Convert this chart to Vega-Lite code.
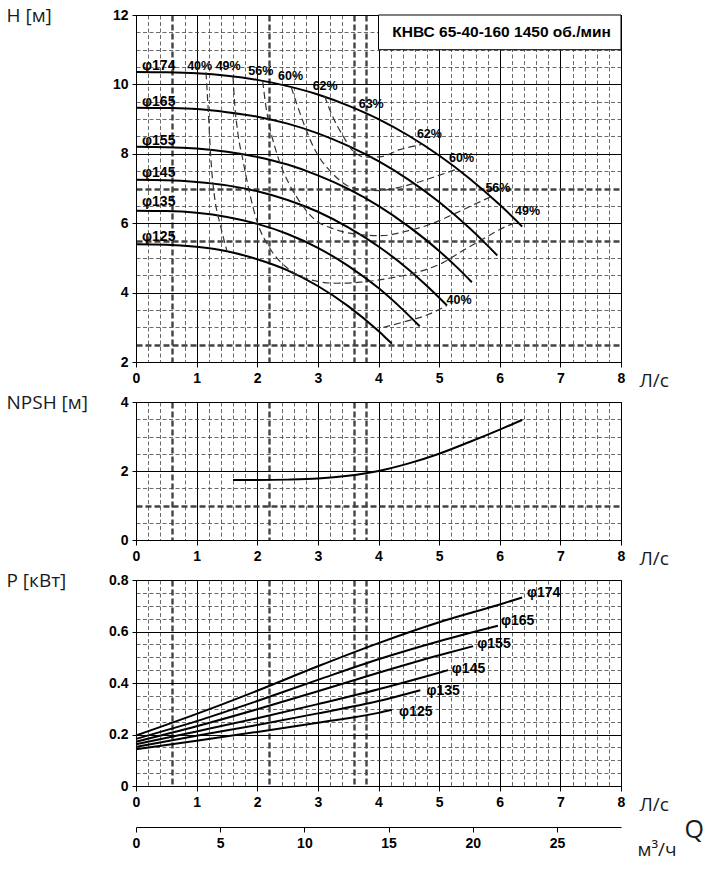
{
  "$schema": "https://vega.github.io/schema/vega-lite/v6.json",
  "background": "white",
  "padding": 5,
  "bounds": "flush",
  "spacing": 40,
  "config": {
    "view": {"stroke": "black", "strokeWidth": 1},
    "axis": {
      "labelFont": "Liberation Sans, Arial, sans-serif",
      "labelFontSize": 14, "labelFontWeight": "bold", "labelColor": "black",
      "titleFont": "Open Sans, Noto Sans, sans-serif", "titleFontWeight": "normal", "titleColor": "#1a1a1a", "titleFontSize": 19,
      "domainColor": "black", "tickColor": "black", "labelFlush": false, "labelOverlap": false, "labelBound": false
    },
    "text": {"font": "Liberation Sans, Arial, sans-serif", "fontWeight": "bold", "color": "black"}
  },
  "datasets": {
    "hq": [
      {"d":"φ174","q":0,"h":10.36},{"d":"φ174","q":0.5,"h":10.35},{"d":"φ174","q":1,"h":10.32},{"d":"φ174","q":1.5,"h":10.25},{"d":"φ174","q":2,"h":10.13},{"d":"φ174","q":2.5,"h":9.95},{"d":"φ174","q":3,"h":9.71},{"d":"φ174","q":3.5,"h":9.39},{"d":"φ174","q":4,"h":9.0},{"d":"φ174","q":4.5,"h":8.52},{"d":"φ174","q":5,"h":7.95},{"d":"φ174","q":5.5,"h":7.29},{"d":"φ174","q":6,"h":6.53},{"d":"φ174","q":6.2,"h":6.2},{"d":"φ174","q":6.37,"h":5.9},
      {"d":"φ165","q":0,"h":9.33},{"d":"φ165","q":0.5,"h":9.32},{"d":"φ165","q":1,"h":9.29},{"d":"φ165","q":1.5,"h":9.2},{"d":"φ165","q":2,"h":9.07},{"d":"φ165","q":2.5,"h":8.87},{"d":"φ165","q":3,"h":8.59},{"d":"φ165","q":3.5,"h":8.23},{"d":"φ165","q":4,"h":7.79},{"d":"φ165","q":4.5,"h":7.25},{"d":"φ165","q":5,"h":6.61},{"d":"φ165","q":5.5,"h":5.86},{"d":"φ165","q":5.75,"h":5.44},{"d":"φ165","q":5.96,"h":5.07},
      {"d":"φ155","q":0,"h":8.2},{"d":"φ155","q":0.5,"h":8.19},{"d":"φ155","q":1,"h":8.15},{"d":"φ155","q":1.5,"h":8.06},{"d":"φ155","q":2,"h":7.91},{"d":"φ155","q":2.5,"h":7.69},{"d":"φ155","q":3,"h":7.38},{"d":"φ155","q":3.5,"h":6.99},{"d":"φ155","q":4,"h":6.5},{"d":"φ155","q":4.5,"h":5.9},{"d":"φ155","q":5,"h":5.2},{"d":"φ155","q":5.3,"h":4.72},{"d":"φ155","q":5.54,"h":4.3},
      {"d":"φ145","q":0,"h":7.25},{"d":"φ145","q":0.5,"h":7.24},{"d":"φ145","q":1,"h":7.19},{"d":"φ145","q":1.5,"h":7.09},{"d":"φ145","q":2,"h":6.92},{"d":"φ145","q":2.5,"h":6.67},{"d":"φ145","q":3,"h":6.33},{"d":"φ145","q":3.5,"h":5.88},{"d":"φ145","q":4,"h":5.33},{"d":"φ145","q":4.5,"h":4.66},{"d":"φ145","q":4.8,"h":4.19},{"d":"φ145","q":5.13,"h":3.63},
      {"d":"φ135","q":0,"h":6.36},{"d":"φ135","q":0.5,"h":6.35},{"d":"φ135","q":1,"h":6.3},{"d":"φ135","q":1.5,"h":6.18},{"d":"φ135","q":2,"h":5.98},{"d":"φ135","q":2.5,"h":5.69},{"d":"φ135","q":3,"h":5.29},{"d":"φ135","q":3.5,"h":4.77},{"d":"φ135","q":4,"h":4.13},{"d":"φ135","q":4.4,"h":3.51},{"d":"φ135","q":4.68,"h":3.03},
      {"d":"φ125","q":0,"h":5.39},{"d":"φ125","q":0.5,"h":5.38},{"d":"φ125","q":1,"h":5.32},{"d":"φ125","q":1.5,"h":5.19},{"d":"φ125","q":2,"h":4.96},{"d":"φ125","q":2.5,"h":4.64},{"d":"φ125","q":3,"h":4.19},{"d":"φ125","q":3.5,"h":3.61},{"d":"φ125","q":4,"h":2.89},{"d":"φ125","q":4.1,"h":2.73},{"d":"φ125","q":4.22,"h":2.53}
    ],
    "eff": [
      {"e":"40L","q":1.155,"h":10.35},{"e":"40L","q":1.19,"h":9.3},{"e":"40L","q":1.22,"h":8.3},{"e":"40L","q":1.25,"h":7.5},{"e":"40L","q":1.3,"h":6.7},{"e":"40L","q":1.39,"h":5.95},{"e":"40L","q":1.5,"h":5.2},
      {"e":"49","q":1.6,"h":10.22},{"e":"49","q":1.63,"h":9.4},{"e":"49","q":1.68,"h":8.6},{"e":"49","q":1.76,"h":7.85},{"e":"49","q":1.87,"h":6.9},{"e":"49","q":2.0,"h":6.03},{"e":"49","q":2.2,"h":5.3},{"e":"49","q":2.5,"h":4.7},{"e":"49","q":2.9,"h":4.36},{"e":"49","q":3.3,"h":4.27},{"e":"49","q":3.7,"h":4.3},{"e":"49","q":4.2,"h":4.42},{"e":"49","q":4.7,"h":4.62},{"e":"49","q":5.05,"h":4.85},{"e":"49","q":5.4,"h":5.22},{"e":"49","q":5.7,"h":5.52},{"e":"49","q":6.0,"h":5.82},{"e":"49","q":6.3,"h":6.05},
      {"e":"56","q":2.09,"h":10.1},{"e":"56","q":2.14,"h":9.4},{"e":"56","q":2.2,"h":8.81},{"e":"56","q":2.29,"h":8.2},{"e":"56","q":2.39,"h":7.66},{"e":"56","q":2.52,"h":7.15},{"e":"56","q":2.67,"h":6.7},{"e":"56","q":2.94,"h":6.12},{"e":"56","q":3.27,"h":5.83},{"e":"56","q":3.6,"h":5.69},{"e":"56","q":4.04,"h":5.64},{"e":"56","q":4.48,"h":5.78},{"e":"56","q":4.87,"h":5.98},{"e":"56","q":5.25,"h":6.27},{"e":"56","q":5.53,"h":6.5},{"e":"56","q":5.85,"h":6.76},
      {"e":"60","q":2.56,"h":9.92},{"e":"60","q":2.66,"h":9.4},{"e":"60","q":2.78,"h":8.81},{"e":"60","q":2.9,"h":8.3},{"e":"60","q":3.03,"h":7.88},{"e":"60","q":3.22,"h":7.47},{"e":"60","q":3.44,"h":7.13},{"e":"60","q":3.7,"h":6.97},{"e":"60","q":4.0,"h":6.94},{"e":"60","q":4.3,"h":7.02},{"e":"60","q":4.65,"h":7.18},{"e":"60","q":4.98,"h":7.37},{"e":"60","q":5.3,"h":7.56},
      {"e":"62","q":3.11,"h":9.67},{"e":"62","q":3.25,"h":9.05},{"e":"62","q":3.42,"h":8.5},{"e":"62","q":3.58,"h":8.08},{"e":"62","q":3.8,"h":7.9},{"e":"62","q":4.05,"h":7.92},{"e":"62","q":4.35,"h":8.12},{"e":"62","q":4.72,"h":8.27},
      {"e":"40R","q":4.08,"h":3.0},{"e":"40R","q":4.45,"h":3.17},{"e":"40R","q":4.81,"h":3.36},{"e":"40R","q":5.13,"h":3.63}
    ],
    "hqlab": [
      {"t":"φ174","q":0.1,"h":10.54},{"t":"φ165","q":0.1,"h":9.5},{"t":"φ155","q":0.1,"h":8.38},
      {"t":"φ145","q":0.1,"h":7.45},{"t":"φ135","q":0.1,"h":6.6},{"t":"φ125","q":0.1,"h":5.59}
    ],
    "efflab": [
      {"t":"40%","q":1.05,"h":10.54},{"t":"49%","q":1.52,"h":10.52},{"t":"56%","q":2.06,"h":10.38},
      {"t":"60%","q":2.55,"h":10.25},{"t":"62%","q":3.12,"h":9.95},{"t":"63%","q":3.88,"h":9.44},
      {"t":"62%","q":4.84,"h":8.57},{"t":"60%","q":5.37,"h":7.87},{"t":"56%","q":5.97,"h":7.01},
      {"t":"49%","q":6.46,"h":6.36},{"t":"40%","q":5.33,"h":3.8}
    ],
    "npsh": [
      {"q":1.6,"n":1.74},{"q":2.0,"n":1.74},{"q":2.5,"n":1.75},{"q":3.0,"n":1.78},{"q":3.5,"n":1.86},{"q":4.0,"n":2.0},
      {"q":4.5,"n":2.22},{"q":5.0,"n":2.5},{"q":5.5,"n":2.84},{"q":6.0,"n":3.2},{"q":6.37,"n":3.48}
    ],
    "pw": [
      {"d":"φ174","q":0,"p":0.196},{"d":"φ174","q":1,"p":0.28},{"d":"φ174","q":2,"p":0.37},{"d":"φ174","q":3,"p":0.465},{"d":"φ174","q":4,"p":0.555},{"d":"φ174","q":5,"p":0.636},{"d":"φ174","q":6,"p":0.705},{"d":"φ174","q":6.37,"p":0.732},
      {"d":"φ165","q":0,"p":0.183},{"d":"φ165","q":1,"p":0.252},{"d":"φ165","q":2,"p":0.33},{"d":"φ165","q":3,"p":0.412},{"d":"φ165","q":4,"p":0.492},{"d":"φ165","q":5,"p":0.562},{"d":"φ165","q":5.97,"p":0.622},
      {"d":"φ155","q":0,"p":0.172},{"d":"φ155","q":1,"p":0.232},{"d":"φ155","q":2,"p":0.298},{"d":"φ155","q":3,"p":0.368},{"d":"φ155","q":4,"p":0.44},{"d":"φ155","q":5,"p":0.508},{"d":"φ155","q":5.56,"p":0.543},
      {"d":"φ145","q":0,"p":0.162},{"d":"φ145","q":1,"p":0.212},{"d":"φ145","q":2,"p":0.263},{"d":"φ145","q":3,"p":0.318},{"d":"φ145","q":4,"p":0.376},{"d":"φ145","q":5,"p":0.44},{"d":"φ145","q":5.15,"p":0.45},
      {"d":"φ135","q":0,"p":0.152},{"d":"φ135","q":1,"p":0.195},{"d":"φ135","q":2,"p":0.237},{"d":"φ135","q":3,"p":0.282},{"d":"φ135","q":4,"p":0.33},{"d":"φ135","q":4.69,"p":0.372},
      {"d":"φ125","q":0,"p":0.143},{"d":"φ125","q":1,"p":0.176},{"d":"φ125","q":2,"p":0.21},{"d":"φ125","q":3,"p":0.246},{"d":"φ125","q":4,"p":0.284},{"d":"φ125","q":4.22,"p":0.296}
    ],
    "pwlab": [
      {"t":"φ174","q":6.45,"p":0.748},{"t":"φ165","q":6.02,"p":0.642},{"t":"φ155","q":5.63,"p":0.55},
      {"t":"φ145","q":5.21,"p":0.455},{"t":"φ135","q":4.79,"p":0.37},{"t":"φ125","q":4.34,"p":0.288}
    ],
    "m3": [{"m":0,"z":0},{"m":28.8,"z":0}]
  },
  "vconcat": [
    {
      "width": 485, "height": 347,
      "layer": [
        {
          "encoding": {
            "x": {"field": "q", "type": "quantitative", "scale": {"domain": [0, 8], "nice": false, "zero": false},
              "axis": {
                "values": [0,0.2,0.4,0.6,0.8,1,1.2,1.4,1.6,1.8,2,2.2,2.4,2.6,2.8,3,3.2,3.4,3.6,3.8,4,4.2,4.4,4.6,4.8,5,5.2,5.4,5.6,5.8,6,6.2,6.4,6.6,6.8,7,7.2,7.4,7.6,7.8,8],
                "title": "Л/с", "titleX": 503, "titleY": 18, "titleAlign": "left", "titleBaseline": "middle", "titleAngle": 0,
                "labelExpr": "datum.value % 1 === 0 ? '' + datum.value : ''", "labelPadding": 4,
                "tickSize": {"condition": {"test": "datum.value % 1 === 0", "value": 5}, "value": 0},
                "grid": true,
                "gridColor": {"condition": {"test": "datum.value % 1 === 0", "value": "black"}, "value": "#444"},
                "gridDash": {"condition": [{"test": "indexof([0.6,2.2,3.6,3.8], datum.value) >= 0", "value": [6, 3]}, {"test": "datum.value % 1 === 0", "value": []}], "value": [4, 2.5]},
                "gridWidth": {"condition": [{"test": "indexof([0.6,2.2,3.6,3.8], datum.value) >= 0", "value": 2.4}, {"test": "datum.value % 1 === 0", "value": 1}], "value": 0.8}
              }},
            "y": {"field": "h", "type": "quantitative", "scale": {"domain": [2, 12], "nice": false, "zero": false},
              "axis": {
                "values": [2,2.5,3,3.5,4,4.5,5,5.5,6,6.5,7,7.5,8,8.5,9,9.5,10,10.5,11,11.5,12],
                "title": "H [м]", "titleAngle": 0, "titleAlign": "left", "titleBaseline": "middle", "titleX": -130, "titleY": 0,
                "labelExpr": "datum.value % 2 === 0 ? '' + datum.value : ''", "labelPadding": 4,
                "tickSize": {"condition": {"test": "datum.value % 2 === 0", "value": 4}, "value": 0},
                "grid": true,
                "gridColor": {"condition": {"test": "datum.value % 2 === 0", "value": "black"}, "value": "#444"},
                "gridDash": {"condition": [{"test": "indexof([2.5,5.5,7], datum.value) >= 0", "value": [6, 3]}, {"test": "datum.value % 2 === 0", "value": []}], "value": [4, 2.5]},
                "gridWidth": {"condition": [{"test": "indexof([2.5,5.5,7], datum.value) >= 0", "value": 2.4}, {"test": "datum.value % 2 === 0", "value": 1}], "value": 0.8}
              }}
          },
          "layer": [
            {
              "data": {"name": "hq"},
              "mark": {"type": "line", "color": "black", "strokeWidth": 2, "interpolate": "monotone"},
              "encoding": {"detail": {"field": "d"}}
            },
            {
              "data": {"name": "eff"},
              "mark": {"type": "line", "color": "#333", "strokeWidth": 1.2, "strokeDash": [7, 4], "interpolate": "monotone"},
              "encoding": {"detail": {"field": "e"}}
            },
            {
              "data": {"name": "hqlab"},
              "mark": {"type": "text", "align": "left", "baseline": "middle", "fontSize": 14},
              "encoding": {"text": {"field": "t"}}
            },
            {
              "data": {"name": "efflab"},
              "mark": {"type": "text", "align": "center", "baseline": "middle", "fontSize": 12.5},
              "encoding": {"text": {"field": "t"}}
            }
          ]
        },
        {
          "data": {"values": [{"t": "КНВС 65-40-160 1450 об./мин"}]},
          "encoding": {
            "x": {"datum": 4, "type": "quantitative", "scale": {"domain": [0, 8], "nice": false, "zero": false},
              "axis": {
                "values": [0,0.2,0.4,0.6,0.8,1,1.2,1.4,1.6,1.8,2,2.2,2.4,2.6,2.8,3,3.2,3.4,3.6,3.8,4,4.2,4.4,4.6,4.8,5,5.2,5.4,5.6,5.8,6,6.2,6.4,6.6,6.8,7,7.2,7.4,7.6,7.8,8],
                "title": "Л/с", "titleX": 503, "titleY": 18, "titleAlign": "left", "titleBaseline": "middle", "titleAngle": 0,
                "labelExpr": "datum.value % 1 === 0 ? '' + datum.value : ''", "labelPadding": 4,
                "tickSize": {"condition": {"test": "datum.value % 1 === 0", "value": 5}, "value": 0},
                "grid": true,
                "gridColor": {"condition": {"test": "datum.value % 1 === 0", "value": "black"}, "value": "#444"},
                "gridDash": {"condition": [{"test": "indexof([0.6,2.2,3.6,3.8], datum.value) >= 0", "value": [6, 3]}, {"test": "datum.value % 1 === 0", "value": []}], "value": [4, 2.5]},
                "gridWidth": {"condition": [{"test": "indexof([0.6,2.2,3.6,3.8], datum.value) >= 0", "value": 2.4}, {"test": "datum.value % 1 === 0", "value": 1}], "value": 0.8}
              }},
            "x2": {"datum": 8},
            "y": {"datum": 11, "type": "quantitative", "scale": {"domain": [2, 12], "nice": false, "zero": false},
              "axis": {
                "values": [2,2.5,3,3.5,4,4.5,5,5.5,6,6.5,7,7.5,8,8.5,9,9.5,10,10.5,11,11.5,12],
                "title": "H [м]", "titleAngle": 0, "titleAlign": "left", "titleBaseline": "middle", "titleX": -130, "titleY": 0,
                "labelExpr": "datum.value % 2 === 0 ? '' + datum.value : ''", "labelPadding": 4,
                "tickSize": {"condition": {"test": "datum.value % 2 === 0", "value": 4}, "value": 0},
                "grid": true,
                "gridColor": {"condition": {"test": "datum.value % 2 === 0", "value": "black"}, "value": "#444"},
                "gridDash": {"condition": [{"test": "indexof([2.5,5.5,7], datum.value) >= 0", "value": [6, 3]}, {"test": "datum.value % 2 === 0", "value": []}], "value": [4, 2.5]},
                "gridWidth": {"condition": [{"test": "indexof([2.5,5.5,7], datum.value) >= 0", "value": 2.4}, {"test": "datum.value % 2 === 0", "value": 1}], "value": 0.8}
              }},
            "y2": {"datum": 12}
          },
          "layer": [
            {"mark": {"type": "rect", "fill": "white", "stroke": "black", "strokeWidth": 1}},
            {
              "mark": {"type": "text", "align": "center", "baseline": "middle", "fontSize": 15.5},
              "encoding": {
                "x": {"datum": 6.03, "type": "quantitative"},
                "y": {"datum": 11.5, "type": "quantitative"},
                "x2": null, "y2": null,
                "text": {"field": "t"}
              }
            }
          ]
        }
      ]
    },
    {
      "width": 485, "height": 138,
      "data": {"name": "npsh"},
      "mark": {"type": "line", "color": "black", "strokeWidth": 2, "interpolate": "monotone"},
      "encoding": {
        "x": {"field": "q", "type": "quantitative", "scale": {"domain": [0, 8], "nice": false, "zero": false},
          "axis": {
            "values": [0,0.2,0.4,0.6,0.8,1,1.2,1.4,1.6,1.8,2,2.2,2.4,2.6,2.8,3,3.2,3.4,3.6,3.8,4,4.2,4.4,4.6,4.8,5,5.2,5.4,5.6,5.8,6,6.2,6.4,6.6,6.8,7,7.2,7.4,7.6,7.8,8],
            "title": "Л/с", "titleX": 503, "titleY": 18, "titleAlign": "left", "titleBaseline": "middle", "titleAngle": 0,
            "labelExpr": "datum.value % 1 === 0 ? '' + datum.value : ''", "labelPadding": 4,
            "tickSize": {"condition": {"test": "datum.value % 1 === 0", "value": 5}, "value": 0},
            "grid": true,
            "gridColor": {"condition": {"test": "datum.value % 1 === 0", "value": "black"}, "value": "#444"},
            "gridDash": {"condition": [{"test": "indexof([0.6,2.2,3.6,3.8], datum.value) >= 0", "value": [6, 3]}, {"test": "datum.value % 1 === 0", "value": []}], "value": [4, 2.5]},
            "gridWidth": {"condition": [{"test": "indexof([0.6,2.2,3.6,3.8], datum.value) >= 0", "value": 2.4}, {"test": "datum.value % 1 === 0", "value": 1}], "value": 0.8}
          }},
        "y": {"field": "n", "type": "quantitative", "scale": {"domain": [0, 4], "nice": false, "zero": false},
          "axis": {
            "values": [0,0.5,1,1.5,2,2.5,3,3.5,4],
            "title": "NPSH [м]", "titleAngle": 0, "titleAlign": "left", "titleBaseline": "middle", "titleX": -130, "titleY": 0,
            "labelExpr": "datum.value % 2 === 0 ? '' + datum.value : ''", "labelPadding": 4,
            "tickSize": {"condition": {"test": "datum.value % 2 === 0", "value": 4}, "value": 0},
            "grid": true,
            "gridColor": {"condition": {"test": "datum.value % 2 === 0", "value": "black"}, "value": "#444"},
            "gridDash": {"condition": [{"test": "datum.value === 1", "value": [6, 3]}, {"test": "datum.value % 2 === 0", "value": []}], "value": [4, 2.5]},
            "gridWidth": {"condition": [{"test": "datum.value === 1", "value": 2.4}, {"test": "datum.value % 2 === 0", "value": 1}], "value": 0.8}
          }}
      }
    },
    {
      "width": 485, "height": 206,
      "encoding": {
        "x": {"field": "q", "type": "quantitative", "scale": {"domain": [0, 8], "nice": false, "zero": false},
          "axis": {
            "values": [0,0.2,0.4,0.6,0.8,1,1.2,1.4,1.6,1.8,2,2.2,2.4,2.6,2.8,3,3.2,3.4,3.6,3.8,4,4.2,4.4,4.6,4.8,5,5.2,5.4,5.6,5.8,6,6.2,6.4,6.6,6.8,7,7.2,7.4,7.6,7.8,8],
            "title": "Л/с", "titleX": 503, "titleY": 18, "titleAlign": "left", "titleBaseline": "middle", "titleAngle": 0,
            "labelExpr": "datum.value % 1 === 0 ? '' + datum.value : ''", "labelPadding": 4,
            "tickSize": {"condition": {"test": "datum.value % 1 === 0", "value": 5}, "value": 0},
            "grid": true,
            "gridColor": {"condition": {"test": "datum.value % 1 === 0", "value": "black"}, "value": "#444"},
            "gridDash": {"condition": [{"test": "indexof([0.6,2.2,3.6,3.8], datum.value) >= 0", "value": [6, 3]}, {"test": "datum.value % 1 === 0", "value": []}], "value": [4, 2.5]},
            "gridWidth": {"condition": [{"test": "indexof([0.6,2.2,3.6,3.8], datum.value) >= 0", "value": 2.4}, {"test": "datum.value % 1 === 0", "value": 1}], "value": 0.8}
          }},
        "y": {"field": "p", "type": "quantitative", "scale": {"domain": [0, 0.8], "nice": false, "zero": false},
          "axis": {
            "values": [0,0.05,0.1,0.15,0.2,0.25,0.3,0.35,0.4,0.45,0.5,0.55,0.6,0.65,0.7,0.75,0.8],
            "title": "P [кВт]", "titleAngle": 0, "titleAlign": "left", "titleBaseline": "middle", "titleX": -130, "titleY": 0,
            "labelExpr": "indexof([0,0.2,0.4,0.6,0.8], datum.value) >= 0 ? '' + datum.value : ''", "labelPadding": 4,
            "tickSize": {"condition": {"test": "indexof([0,0.2,0.4,0.6,0.8], datum.value) >= 0", "value": 4}, "value": 0},
            "grid": true,
            "gridColor": {"condition": {"test": "indexof([0,0.2,0.4,0.6,0.8], datum.value) >= 0", "value": "black"}, "value": "#444"},
            "gridDash": {"condition": {"test": "indexof([0,0.2,0.4,0.6,0.8], datum.value) >= 0", "value": []}, "value": [4, 2.5]},
            "gridWidth": {"condition": {"test": "indexof([0,0.2,0.4,0.6,0.8], datum.value) >= 0", "value": 1}, "value": 0.8}
          }}
      },
      "layer": [
        {
          "data": {"name": "pw"},
          "mark": {"type": "line", "color": "black", "strokeWidth": 2, "interpolate": "monotone"},
          "encoding": {"detail": {"field": "d"}}
        },
        {
          "data": {"name": "pwlab"},
          "mark": {"type": "text", "align": "left", "baseline": "middle", "fontSize": 14},
          "encoding": {"text": {"field": "t"}}
        }
      ]
    },
    {
      "width": 485, "height": 1,
      "view": {"stroke": null},
      "data": {"name": "m3"},
      "mark": {"type": "point", "opacity": 0},
      "encoding": {
        "x": {"field": "m", "type": "quantitative", "scale": {"domain": [0, 28.8], "nice": false, "zero": false},
          "axis": {
            "values": [0, 5, 10, 15, 20, 25], "grid": false, "tickSize": 5, "labelPadding": 4,
            "title": "м³/ч", "titleX": 501, "titleY": 22, "titleAlign": "left", "titleBaseline": "middle", "titleAngle": 0
          }},
        "y": {"field": "z", "type": "quantitative", "scale": {"domain": [0, 1]},
          "axis": {
            "orient": "right", "labels": false, "ticks": false, "domain": false, "grid": false,
            "title": "Q", "titleAngle": 0, "titleAlign": "left", "titleBaseline": "middle", "titleX": 63, "titleY": 3, "titleFontSize": 25
          }}
      }
    }
  ]
}
